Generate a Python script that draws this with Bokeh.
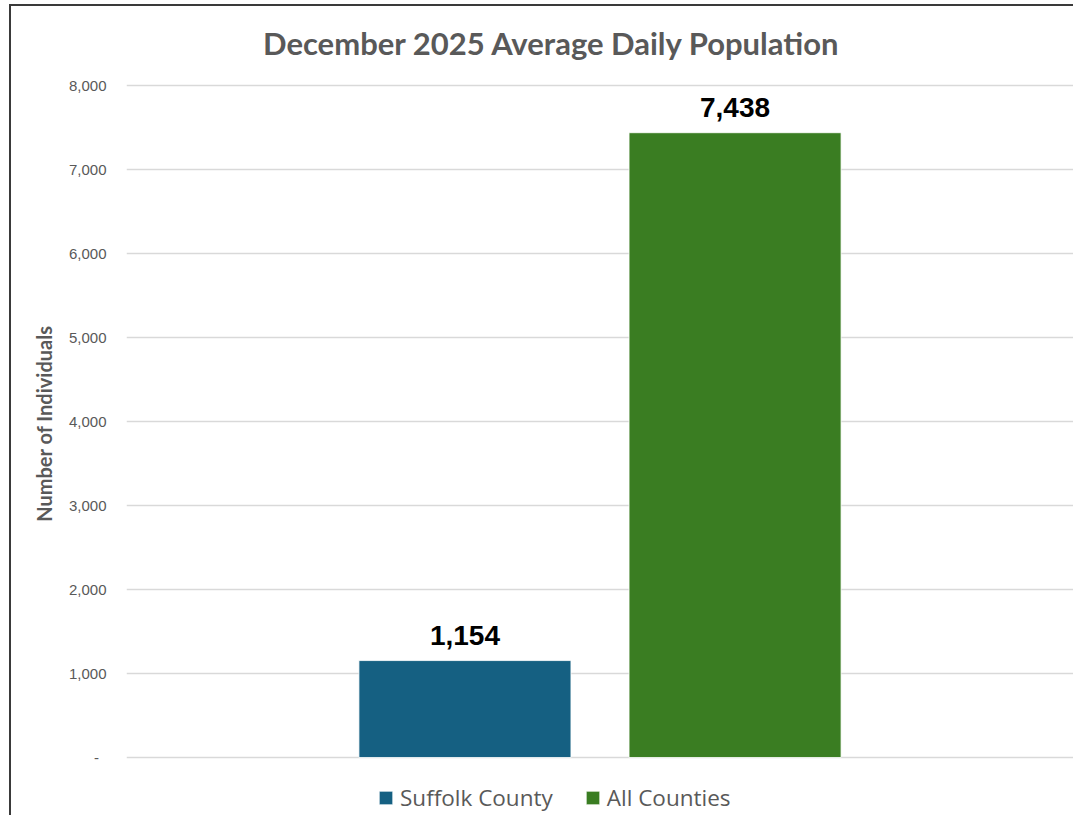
from bokeh.plotting import figure
from bokeh.models import (FactorRange, Range1d, Legend, LegendItem, ColumnDataSource,
                          FixedTicker, NumeralTickFormatter, Label)
from bokeh.core.properties import value
from bokeh.embed import file_html
from bokeh.resources import INLINE

# ---- data ----
categories = ["Suffolk County", "All Counties"]
values = [1154, 7438]
colors = ["#156082", "#3A7D22"]
y_ticks = [0, 1000, 2000, 3000, 4000, 5000, 6000, 7000, 8000]
title_text = "December 2025 Average Daily Population"
y_label = "Number of Individuals"

labels = [f"{v:,}" for v in values]
source = ColumnDataSource(dict(x=categories, top=values, color=colors, label=labels))

# the frame extends above the top tick and below zero to hold title and legend
p = figure(
    x_range=FactorRange(factors=categories, range_padding=0.753),
    y_range=Range1d(-690.5, 8940.5),
    frame_width=947, frame_height=809,
    min_border_left=115, min_border_top=0, min_border_right=0, min_border_bottom=0,
    output_backend="svg", toolbar_location=None,
)
p.styles = {"border-left": "2px solid #3a3a3a", "border-top": "2px solid #3a3a3a",
            "margin-left": "9px", "margin-top": "4px"}

r = p.vbar(x="x", top="top", width=0.785, color="color", line_color="white",
           line_width=0.8, source=source)

p.text(x="x", y="top", text="label", source=source, text_align="center",
       text_baseline="bottom", y_offset=-16, text_font=value("Liberation Sans"),
       text_font_style="bold", text_font_size="28px", text_color="black")

# title
title = Label(x=425.5, y=773, x_units="screen", y_units="screen", text=title_text,
              text_align="center", text_baseline="alphabetic",
              text_font="Lato", text_font_style="bold", text_font_size="31px",
              text_color="#595959")
p.add_layout(title)

# axes
p.xaxis.visible = False
p.yaxis.ticker = FixedTicker(ticks=y_ticks)
p.yaxis.formatter = NumeralTickFormatter(format="0,0")
p.yaxis.major_label_overrides = {0: "-\u2002"}
p.yaxis.axis_line_color = None
p.yaxis.major_tick_line_color = None
p.yaxis.minor_tick_line_color = None
p.yaxis.major_label_standoff = 14
p.yaxis.major_label_text_font = "Liberation Sans"
p.yaxis.major_label_text_font_size = "15px"
p.yaxis.major_label_text_color = "#595959"
p.yaxis.axis_label = y_label + "\u2003\u2002"
p.yaxis.axis_label_text_font = "Lato"
p.yaxis.axis_label_text_font_style = "bold"
p.yaxis.axis_label_text_font_size = "20px"
p.yaxis.axis_label_text_color = "#595959"
p.yaxis.axis_label_standoff = 10

p.xgrid.grid_line_color = None
p.ygrid.ticker = FixedTicker(ticks=y_ticks)
p.ygrid.grid_line_color = "#D9D9D9"
p.ygrid.grid_line_width = 1.5
p.outline_line_color = None

legend = Legend(
    items=[LegendItem(label=categories[i], renderers=[r], index=i) for i in range(len(categories))],
    orientation="horizontal", location=(251, 2),
    padding=0, margin=0, spacing=31, label_standoff=6,
    glyph_width=17, glyph_height=17,
    label_text_font="Open Sans", label_text_font_size="22.5px", label_text_color="#595959",
    border_line_color=None, background_fill_alpha=0,
)
p.add_layout(legend, "center")

open("out.html", "w").write(file_html(p, INLINE))
